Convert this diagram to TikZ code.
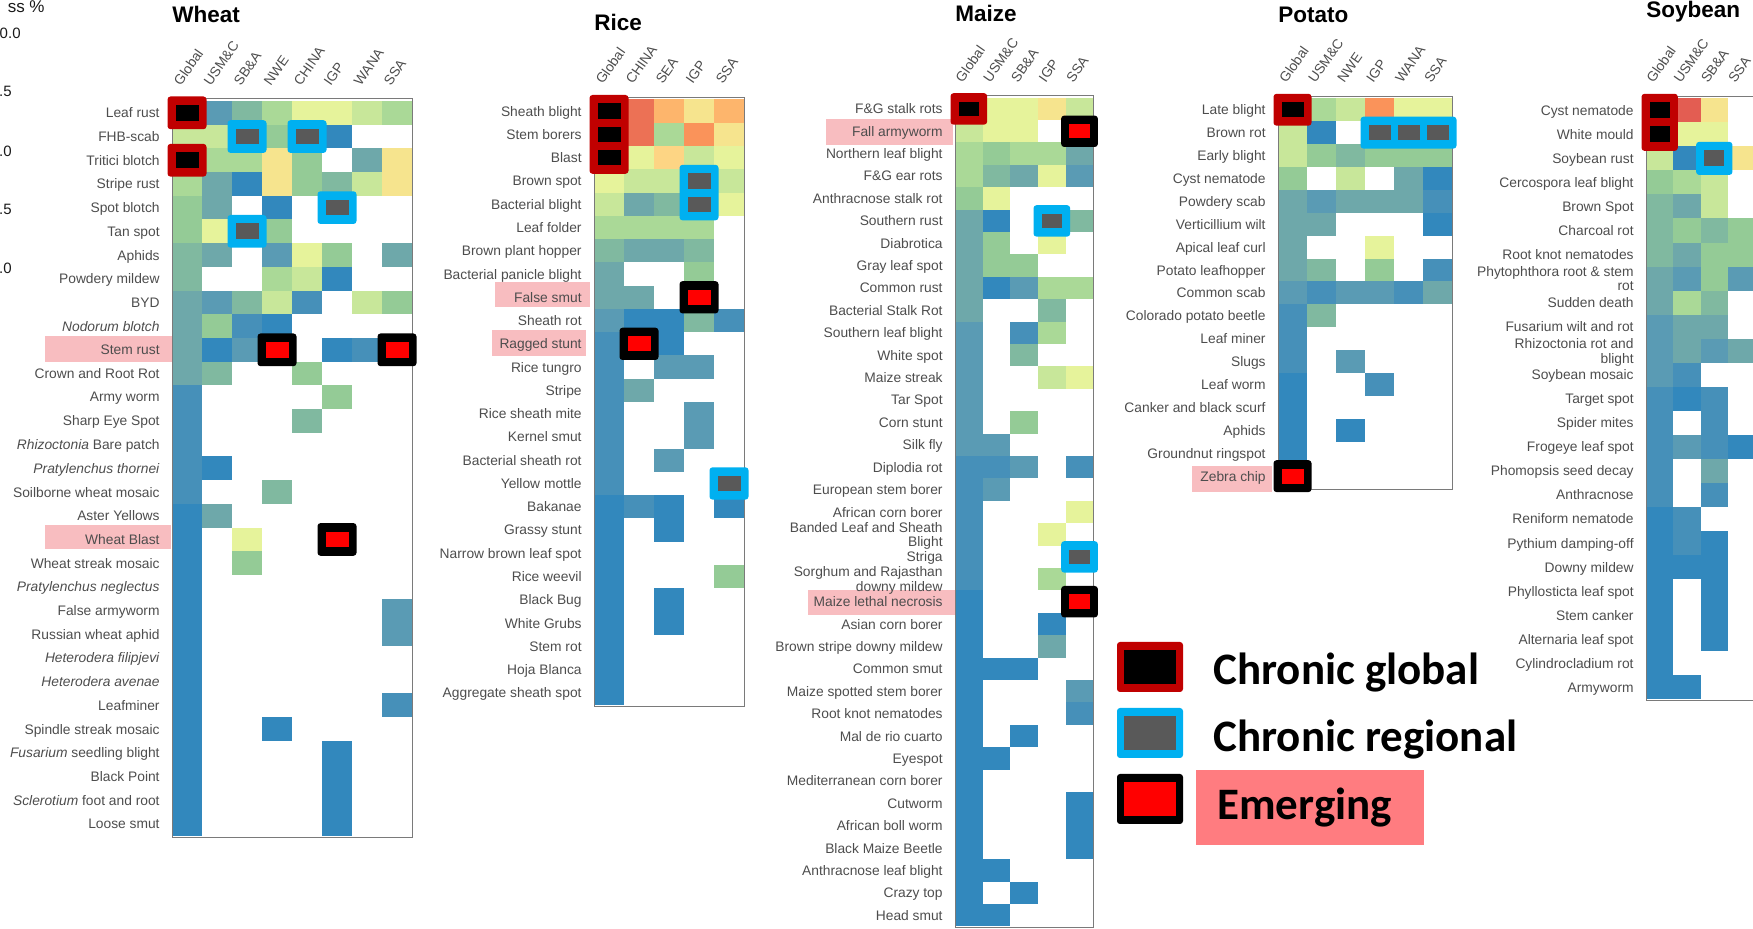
\documentclass[tikz,border=0pt]{standalone}
\usepackage{fontspec}
\setmainfont{Liberation Sans}
\newfontfamily\legendfont{Carlito}
\usetikzlibrary{positioning}
% heat colours, low to high loss
\definecolor{h1}{HTML}{3288BD}
\definecolor{h2}{HTML}{4690B9}
\definecolor{h3}{HTML}{5A9BB4}
\definecolor{h4}{HTML}{6EA8AA}
\definecolor{h5}{HTML}{80B9A0}
\definecolor{h6}{HTML}{94CB96}
\definecolor{h7}{HTML}{AAD997}
\definecolor{h8}{HTML}{C8E79A}
\definecolor{h9}{HTML}{E6F39B}
\definecolor{h10}{HTML}{F6E48E}
\definecolor{h11}{HTML}{FDD584}
\definecolor{h12}{HTML}{FDB56C}
\definecolor{h13}{HTML}{FA935A}
\definecolor{h14}{HTML}{EC7155}
\definecolor{h15}{HTML}{E35D52}
\definecolor{labelgray}{HTML}{4D4D4D}
\definecolor{framegray}{HTML}{7A7A7A}
\definecolor{mkred}{HTML}{C00000}
\definecolor{mkblue}{HTML}{00B0F0}
\definecolor{mkgray}{HTML}{595959}
\definecolor{mkemerg}{HTML}{FF0000}
\definecolor{hlpink}{HTML}{F8BDC0}
\definecolor{legendpink}{HTML}{FF7C80}
% current panel: left, top, cell width, cell height
\newcommand\setpanel[4]{\def\pnx{#1}\def\pny{#2}\def\pnw{#3}\def\pnh{#4}}
\newcommand\heatcols[2]{%
  \foreach \cn [count=\c] in {#2}
    \node[collabel] (#1c\c) at ({\pnx+(\c-0.5)*\pnw-6},{\pny-14}) {\cn};}
\newcommand\heatrows[2]{%
  \foreach \lab/\vals [count=\r] in {#2} {
    \node[rowlabel] (#1\r) at ({\pnx-12},{\pny+(\r-0.5)*\pnh}) {\lab};
    \foreach \v [count=\c] in \vals {
      \ifnum\v>0 \fill[h\v] ({\pnx+(\c-1)*\pnw},{\pny+(\r-1)*\pnh}) rectangle ++(\pnw,\pnh);\fi
    }
  }}
\newcommand\heatframe[2]{%
  \draw[framegray, line width=0.5pt] ({\pnx},{\pny-2}) rectangle ({\pnx+#1*\pnw},{\pny+#2*\pnh+1.5});}
\newcommand\markbox[6]{%
  \fill[#1, rounded corners=1.5pt] ({\pnx+(#3-1)*\pnw-4.5},{\pny+(#4-1)*\pnh-4.5}) rectangle ({\pnx+#5*\pnw+4.5},{\pny+#6*\pnh+4.5});
  \foreach \mc in {#3,...,#5}
    \foreach \mr in {#4,...,#6}
      \fill[#2] ({\pnx+(\mc-1)*\pnw+3.5},{\pny+(\mr-1)*\pnh+4}) rectangle ({\pnx+\mc*\pnw-3.5},{\pny+\mr*\pnh-4});}
\newcommand\chronglobal[4]{\markbox{mkred}{black}{#1}{#2}{#3}{#4}}
\newcommand\chronregion[4]{\markbox{mkblue}{mkgray}{#1}{#2}{#3}{#4}}
\newcommand\emerging[2]{\markbox{black}{mkemerg}{#1}{#2}{#1}{#2}}
\begin{document}
\begin{tikzpicture}[x=0.5pt, y=-0.5pt,
  rowlabel/.style={anchor=east, inner sep=0pt, align=right, text=labelgray,
    font=\fontsize{6.9}{7.4}\selectfont, text depth=0pt},
  collabel/.style={rotate=55, anchor=south west, inner sep=0pt, text=labelgray,
    font=\fontsize{6.9}{7.4}\selectfont, text depth=0pt},
  croptitle/.style={anchor=base west, inner sep=0pt, font=\fontsize{11.25}{13}\selectfont\bfseries},
  scaletext/.style={anchor=base east, inner sep=0pt, text=black!90, font=\fontsize{7.5}{9}\selectfont},
  legendtext/.style={anchor=base west, inner sep=0pt, font=\fontsize{22.5}{26}\selectfont\legendfont\bfseries}]
\useasboundingbox (0,0) rectangle (1753,929);
% cut colour scale on the left
\node[scaletext, font=\fontsize{8.5}{10}\selectfont] (losstitle) at (45,13) {ss \%};
\node[scaletext] (s100) at (21,39) {0.0};
\node[scaletext] (s75) at (12,97) {.5};
\node[scaletext] (s50) at (12,157) {.0};
\node[scaletext] (s25) at (12,215) {.5};
\node[scaletext] (s00) at (12,274) {.0};
% emerging rows
\fill[hlpink] (45,336) rectangle (172,362);
\fill[hlpink] (45,525) rectangle (171,549);
\fill[hlpink] (495,282) rectangle (590,307);
\fill[hlpink] (492,330) rectangle (586,356);
\fill[hlpink] (826,119) rectangle (953,145);
\fill[hlpink] (808,590) rectangle (955,615);
\fill[hlpink] (1192,466) rectangle (1272,492);
% wheat
\setpanel{172}{101}{30}{23.7}
\node[croptitle] (wheat) at (172,23) {Wheat};
\heatcols{w}{Global,USM\&C,SB\&A,NWE,CHINA,IGP,WANA,SSA}
\heatrows{w}{Leaf rust/{0,3,5,7,9,9,8,7},
  FHB-scab/{8,8,0,6,0,1,0,0},
  Tritici blotch/{0,7,7,10,6,0,4,10},
  Stripe rust/{7,4,1,10,6,5,8,10},
  Spot blotch/{6,4,0,1,0,0,0,0},
  Tan spot/{6,9,0,6,0,0,0,0},
  Aphids/{5,4,0,3,9,6,0,4},
  Powdery mildew/{5,0,0,7,8,1,0,0},
  BYD/{4,3,5,8,2,0,8,6},
  \textit{Nodorum blotch}/{4,6,2,1,0,0,0,0},
  Stem rust/{4,1,3,0,0,1,2,0},
  Crown and Root Rot/{4,5,0,0,6,0,0,0},
  Army worm/{2,0,0,0,0,6,0,0},
  Sharp Eye Spot/{2,0,0,0,5,0,0,0},
  \textit{Rhizoctonia} Bare patch/{2},
  \textit{Pratylenchus thornei}/{2,1},
  Soilborne wheat mosaic/{2,0,0,5},
  Aster Yellows/{1,4},
  Wheat Blast/{1,0,9},
  Wheat streak mosaic/{1,0,6},
  \textit{Pratylenchus neglectus}/{1},
  False armyworm/{1,0,0,0,0,0,0,3},
  Russian wheat aphid/{1,0,0,0,0,0,0,3},
  \textit{Heterodera filipjevi}/{1},
  \textit{Heterodera avenae}/{1},
  Leafminer/{1,0,0,0,0,0,0,2},
  Spindle streak mosaic/{1,0,0,1},
  \textit{Fusarium} seedling blight/{1,0,0,0,0,1},
  Black Point/{1,0,0,0,0,1},
  \textit{Sclerotium} foot and root/{1,0,0,0,0,1},
  Loose smut/{1,0,0,0,0,1}}
\heatframe{8}{31}
\chronglobal{1}{1}{1}{1}
\chronglobal{1}{3}{1}{3}
\chronregion{3}{2}{3}{2}
\chronregion{5}{2}{5}{2}
\chronregion{6}{5}{6}{5}
\chronregion{3}{6}{3}{6}
\emerging{4}{11}
\emerging{8}{11}
\emerging{6}{19}
% rice
\setpanel{594}{99.5}{30}{23.27}
\node[croptitle] (rice) at (594,31) {Rice};
\heatcols{r}{Global,CHINA,SEA,IGP,SSA}
\heatrows{r}{Sheath blight/{0,14,12,10,12},
  Stem borers/{0,14,7,13,10},
  Blast/{0,9,11,8,9},
  Brown spot/{9,8,8,0,8},
  Bacterial blight/{8,4,5,0,9},
  Leaf folder/{7,7,7,7,0},
  Brown plant hopper/{5,4,4,5,0},
  Bacterial panicle blight/{4,0,0,6,0},
  False smut/{4,4,0,0,0},
  Sheath rot/{3,1,1,5,2},
  Ragged stunt/{2,0,1,0,0},
  Rice tungro/{2,0,3,3,0},
  Stripe/{2,4},
  Rice sheath mite/{2,0,0,3},
  Kernel smut/{2,0,0,3},
  Bacterial sheath rot/{2,0,3},
  Yellow mottle/{2},
  Bakanae/{1,2,1,0,1},
  Grassy stunt/{1,0,1},
  Narrow brown leaf spot/{1},
  Rice weevil/{1,0,0,0,6},
  Black Bug/{1,0,1},
  White Grubs/{1,0,1},
  Stem rot/{1},
  Hoja Blanca/{1},
  Aggregate sheath spot/{1}}
\heatframe{5}{26}
\chronglobal{1}{1}{1}{3}
\chronregion{4}{4}{4}{5}
\emerging{4}{9}
\emerging{2}{11}
\chronregion{5}{17}{5}{17}
% maize
\setpanel{955}{97.7}{27.67}{22.4}
\node[croptitle] (maize) at (955,22) {Maize};
\heatcols{m}{Global,USM\&C,SB\&A,IGP,SSA}
\heatrows{m}{F\&G stalk rots/{0,9,9,10,8},
  Fall armyworm/{8,9,9,0,0},
  Northern leaf blight/{7,6,7,7,4},
  F\&G ear rots/{7,5,4,9,3},
  Anthracnose stalk rot/{6,9},
  Southern rust/{4,1,0,0,5},
  Diabrotica/{4,6,0,9,0},
  Gray leaf spot/{4,6,6},
  Common rust/{4,1,3,7,7},
  Bacterial Stalk Rot/{4,0,0,5},
  Southern leaf blight/{3,0,2,7},
  White spot/{3,0,5},
  Maize streak/{3,0,0,8,9},
  Tar Spot/{3},
  Corn stunt/{3,0,6},
  Silk fly/{3,3},
  Diplodia rot/{2,2,3,0,2},
  European stem borer/{2,3},
  African corn borer/{2,0,0,0,9},
  Banded Leaf and Sheath\\Blight/{2,0,0,9},
  Striga/{2},
  Sorghum and Rajasthan\\downy mildew/{2,0,0,7},
  Maize lethal necrosis/{1},
  Asian corn borer/{1,0,0,1},
  Brown stripe downy mildew/{1,0,0,4},
  Common smut/{1,1,1},
  Maize spotted stem borer/{1,0,0,0,3},
  Root knot nematodes/{1,0,0,0,2},
  Mal de rio cuarto/{1,0,1},
  Eyespot/{1,1},
  Mediterranean corn borer/{1},
  Cutworm/{1,0,0,0,1},
  African boll worm/{1,0,0,0,1},
  Black Maize Beetle/{1,0,0,0,1},
  Anthracnose leaf blight/{1,1},
  Crazy top/{1,0,1},
  Head smut/{1,1}}
\heatframe{5}{37}
\chronglobal{1}{1}{1}{1}
\emerging{5}{2}
\chronregion{4}{6}{4}{6}
\chronregion{5}{21}{5}{21}
\emerging{5}{23}
% potato
\setpanel{1278}{98.3}{29}{22.9}
\node[croptitle] (potato) at (1278,22.7) {Potato};
\heatcols{p}{Global,USM\&C,NWE,IGP,WANA,SSA}
\heatrows{p}{Late blight/{0,7,8,13,9,9},
  Brown rot/{8,1},
  Early blight/{8,6,5,6,6,6},
  Cyst nematode/{6,0,8,0,4,1},
  Powdery scab/{4,3,4,4,4,2},
  Verticillium wilt/{4,4,0,0,0,1},
  Apical leaf curl/{4,0,0,9},
  Potato leafhopper/{4,5,0,6,0,2},
  Common scab/{3,2,3,3,2,4},
  Colorado potato beetle/{2,5},
  Leaf miner/{2},
  Slugs/{2,0,3},
  Leaf worm/{1,0,0,2},
  Canker and black scurf/{1},
  Aphids/{1,0,1},
  Groundnut ringspot/{1},
  Zebra chip/{0}}
\heatframe{6}{17}
\chronglobal{1}{1}{1}{1}
\chronregion{4}{2}{6}{2}
\emerging{1}{17}
% soybean
\setpanel{1646}{98.3}{27.3}{24.04}
\node[croptitle] (soybean) at (1646,17.3) {Soybean};
\heatcols{s}{Global,USM\&C,SB\&A,SSA}
\heatrows{s}{Cyst nematode/{0,15,10,0},
  White mould/{0,9,9,0},
  Soybean rust/{8,1,0,10},
  Cercospora leaf blight/{6,7,8},
  Brown Spot/{5,4,8},
  Charcoal rot/{5,6,5,6},
  Root knot nematodes/{5,4,6,6},
  Phytophthora root \& stem\\rot/{4,3,6,3},
  Sudden death/{4,7,5},
  Fusarium wilt and rot/{3,4,4},
  Rhizoctonia rot and\\blight/{3,4,3,4},
  Soybean mosaic/{3,2},
  Target spot/{2,1,2},
  Spider mites/{2,0,2},
  Frogeye leaf spot/{2,3,2,1},
  Phomopsis seed decay/{2,0,4},
  Anthracnose/{2,0,2},
  Reniform nematode/{1,2},
  Pythium damping-off/{1,2,1},
  Downy mildew/{1,1,1},
  Phyllosticta leaf spot/{1,0,1},
  Stem canker/{1,0,1},
  Alternaria leaf spot/{1,0,1},
  Cylindrocladium rot/{1},
  Armyworm/{1,1}}
\heatframe{4}{25}
\chronglobal{1}{1}{1}{2}
\chronregion{3}{3}{3}{3}
% legend
\fill[mkred, rounded corners=1.5pt] (1117,642) rectangle (1183,692);
\fill[black] (1124,650) rectangle (1176,684);
\fill[mkblue, rounded corners=1.5pt] (1117,708) rectangle (1183,758);
\fill[mkgray] (1124,716) rectangle (1176,750);
\fill[black, rounded corners=1.5pt] (1117,774) rectangle (1183,824);
\fill[mkemerg] (1124,782) rectangle (1176,816);
\fill[legendpink] (1196,770) rectangle (1424,845);
\node[legendtext] (lgglobal) at (1213,685) {Chronic global};
\node[legendtext] (lgregion) at (1213,752) {Chronic regional};
\node[legendtext] (lgemerg) at (1217,820) {Emerging};
\end{tikzpicture}
\end{document}
